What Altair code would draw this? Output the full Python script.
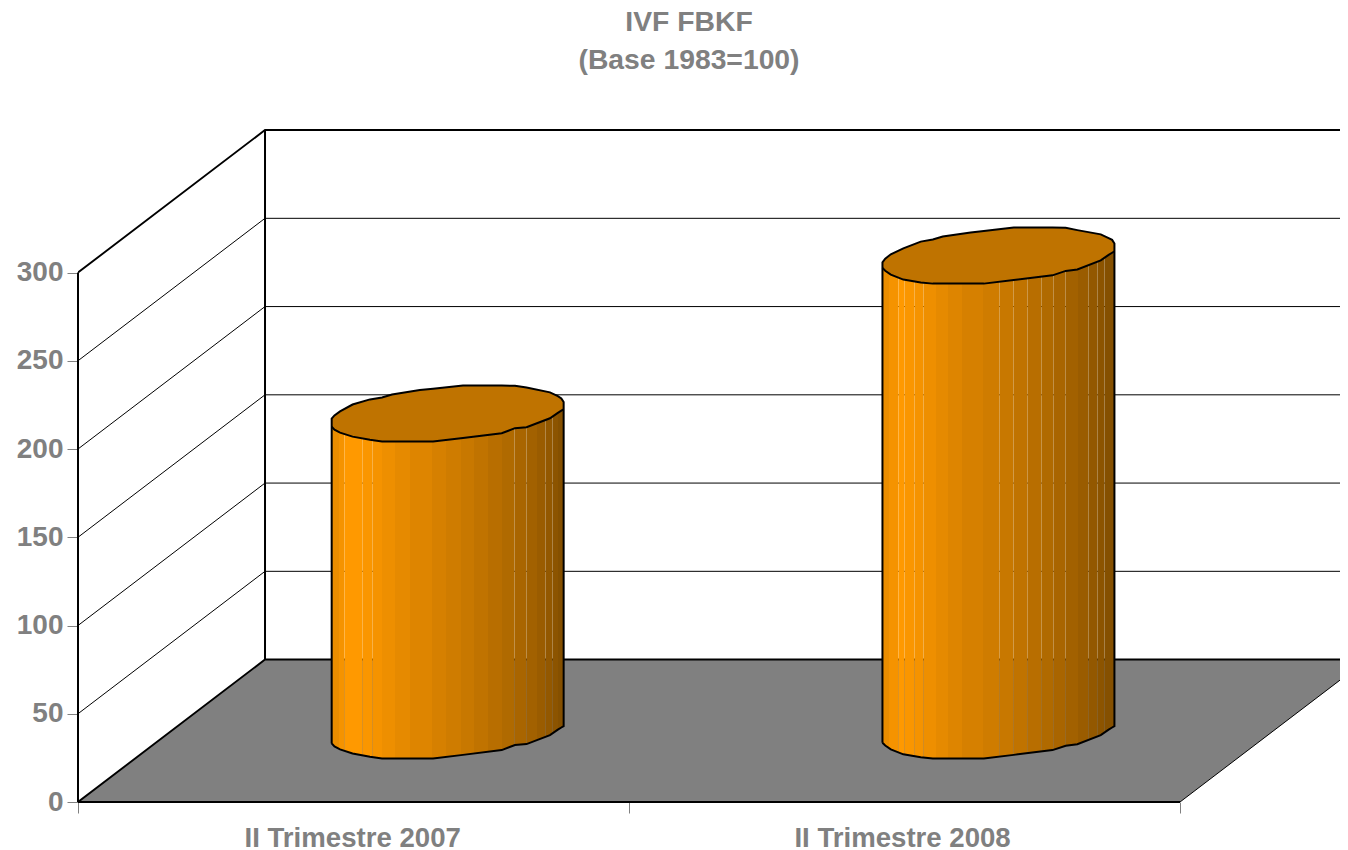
import altair as alt
import pandas as pd

CATEGORIES = ["II Trimestre 2007", "II Trimestre 2008"]
VALUES = [179.5, 269]
TICKS = [0, 50, 100, 150, 200, 250, 300]
TITLE = ["IVF FBKF", "(Base 1983=100)"]

# Outline of each cylinder: share of the column width,
# rim height in axis units at the front and at the back.
RIM_SHARE = [0, .012, .036, .09, .165, .217, .26, .38, .437, .566, .733, .79, .84, .941, .975, .99, 1]
FRONT_RIM = [
    [33.2, 31.5, 29.8, 27.5, 25.7, 24.7, 24.7, 24.7, 24.7, 26.7, 29.4, 32.3, 32.8, 37.9, 41.0, 42.2, 43.0],
    [33.6, 32.0, 29.8, 27.0, 25.4, 24.7, 24.7, 24.7, 24.7, 26.7, 29.4, 31.9, 32.7, 37.9, 41.0, 42.2, 43.0],
]
BACK_RIM = [
    [37.7, 39.5, 41.8, 45.7, 48.6, 49.7, 51.4, 53.9, 54.7, 56.5, 56.5, 56.3, 55.3, 52.6, 50.5, 49.2, 47.1],
    [36.8, 38.8, 41.3, 44.7, 48.5, 49.7, 51.4, 53.6, 54.5, 56.5, 56.5, 56.3, 55.0, 52.6, 50.5, 49.5, 47.4],
]
COLUMN_START = [0.4604, 1.4600]
COLUMN_WIDTH = 0.421

# Facet bands on the cylinder sides
BAND_EDGES = [
    [0, .032, .055, .13, .175, .218, .273, .338, .431, .491, .556, .614, .675, .733, .787, .839, .884, .920, .951, .977, 1],
    [0, .029, .065, .093, .134, .175, .23, .284, .342, .435, .503, .563, .625, .685, .737, .787, .841, .887, .924, .956, 1],
]
BAND_SHADES = [
    "#EA8D00", "#F59300", "#FF9900", "#FA9600", "#F59300", "#EE8F00", "#E68A00", "#DE8500", "#D68000", "#CF7C00",
    "#C87800", "#C07300", "#B86E00", "#B06A00", "#A96500", "#A26100", "#9A5C00", "#935800", "#8C5400", "#855000",
]
SEAMS = [
    [.055, .13, .175, .787, .839, .92, .951],
    [.065, .093, .134, .175, .503, .563, .625, .685, .737, .787, .887, .924, .956],
]

# Box proportions
FLOOR_DEPTH_X = 0.3394
FLOOR_DEPTH_Y = 80.7
X_MAX = 1262 / 551
Y_MAX = 702 / 1.765
GREY = "#808080"
FONT = "Liberation Sans"

xs = alt.Scale(domain=[0, X_MAX], nice=False, zero=False)
ys = alt.Scale(domain=[0, Y_MAX], nice=False, zero=False)
X = alt.X("x:Q", scale=xs, title=None)
Y = alt.Y("y:Q", scale=ys, title=None)


def gradient(idx):
    stops = []
    edges = BAND_EDGES[idx]
    seams = SEAMS[idx]
    for a, b, shade in zip(edges[:-1], edges[1:], BAND_SHADES):
        r, g, bl = int(shade[1:3], 16), int(shade[3:5], 16), int(shade[5:7], 16)
        start = a
        if a in seams:
            seam = f"rgba({r},{g},{bl},0.72)"
            stops += [alt.GradientStop(color=seam, offset=a), alt.GradientStop(color=seam, offset=a + .0045)]
            start = a + .0045
        stops += [alt.GradientStop(color=shade, offset=start), alt.GradientStop(color=shade, offset=b)]
    return alt.Gradient(gradient="linear", stops=stops, x1=0, x2=1, y1=0, y2=0)


# Floor (carries both axes)
floor = pd.DataFrame([
    {"x": 0, "y": 0, "y2": 0},
    {"x": FLOOR_DEPTH_X, "y": FLOOR_DEPTH_Y, "y2": 0},
    {"x": 2, "y": FLOOR_DEPTH_Y, "y2": 0},
    {"x": 2 + FLOOR_DEPTH_X, "y": FLOOR_DEPTH_Y, "y2": FLOOR_DEPTH_Y},
])
floor_layer = alt.Chart(floor).mark_area(color=GREY, clip=True).encode(
    x=alt.X("x:Q", scale=xs, title=None,
            axis=alt.Axis(values=[0, 1, 2], labels=False, domain=False, grid=False, tickColor=GREY,
                          tickSize=11, tickWidth=1, title=None)),
    y=alt.Y("y:Q", scale=ys, title=None,
            axis=alt.Axis(values=TICKS, domain=False, grid=False, tickColor=GREY, tickSize=11, tickWidth=1,
                          labelColor=GREY, labelFont=FONT, labelFontSize=28, labelFontWeight="bold",
                          labelPadding=4, title=None)),
    y2="y2:Q",
)

# Gridlines on both walls
rows = []
for v in TICKS:
    rows += [
        {"v": v, "k": 0, "x": 0, "y": v},
        {"v": v, "k": 1, "x": FLOOR_DEPTH_X, "y": v + FLOOR_DEPTH_Y},
        {"v": v, "k": 2, "x": 2 + FLOOR_DEPTH_X, "y": v + FLOOR_DEPTH_Y},
    ]
grid = pd.DataFrame(rows)
thin = alt.Chart(grid[(grid.v > 0) & (grid.v < TICKS[-1])]).mark_line(color="#000000", strokeWidth=1, clip=True).encode(
    x=X, y=Y, detail="v:N", order="k:Q")
thick = alt.Chart(grid[(grid.v == 0) | (grid.v == TICKS[-1])]).mark_line(color="#000000", strokeWidth=1.9, clip=True).encode(
    x=X, y=Y, detail="v:N", order="k:Q")

edges = pd.DataFrame([
    {"e": "front", "k": 0, "x": 0, "y": 0},
    {"e": "front", "k": 1, "x": 0, "y": TICKS[-1]},
    {"e": "back", "k": 0, "x": FLOOR_DEPTH_X, "y": FLOOR_DEPTH_Y},
    {"e": "back", "k": 1, "x": FLOOR_DEPTH_X, "y": TICKS[-1] + FLOOR_DEPTH_Y},
    {"e": "base", "k": 0, "x": 0, "y": 0},
    {"e": "base", "k": 1, "x": 2, "y": 0},
])
edge_layer = alt.Chart(edges).mark_line(color="#000000", strokeWidth=2, clip=False).encode(
    x=X, y=Y, detail="e:N", order="k:Q")
right_edge = pd.DataFrame([{"x": 2, "y": 0}, {"x": 2 + FLOOR_DEPTH_X, "y": FLOOR_DEPTH_Y}])
right_layer = alt.Chart(right_edge).mark_line(color="#000000", strokeWidth=1, clip=True).encode(x=X, y=Y)

# Cylinders
cyl_layers = []
for i, value in enumerate(VALUES):
    px = [COLUMN_START[i] + s * COLUMN_WIDTH for s in RIM_SHARE]
    front = FRONT_RIM[i]
    back = BACK_RIM[i]
    side = pd.DataFrame({"x": px, "y": front, "y2": [f + value for f in front]})
    top = pd.DataFrame({"x": px, "y": [f + value for f in front], "y2": [b + value for b in back]})
    cyl_layers.append(alt.Chart(side).mark_area(color=gradient(i), clip=True).encode(x=X, y=Y, y2="y2:Q"))
    cyl_layers.append(alt.Chart(top).mark_area(color="#BF7300", clip=True).encode(x=X, y=Y, y2="y2:Q"))
    n = len(px)
    path = (
        [{"p": "o", "k": j, "x": px[j], "y": front[j]} for j in range(n)]
        + [{"p": "o", "k": n + j, "x": px[n - 1 - j], "y": back[n - 1 - j] + value} for j in range(n)]
        + [{"p": "o", "k": 2 * n, "x": px[0], "y": front[0]}]
        + [{"p": "r", "k": j, "x": px[j], "y": front[j] + value} for j in range(n)]
    )
    cyl_layers.append(alt.Chart(pd.DataFrame(path)).mark_line(color="#000000", strokeWidth=2, clip=True).encode(
        x=X, y=Y, detail="p:N", order="k:Q"))

# Category labels
labels = pd.DataFrame({"x": [0.4985, 1.4965], "y": [0, 0], "t": CATEGORIES})
label_layer = alt.Chart(labels).mark_text(
    font=FONT, fontSize=27.6, fontWeight="bold", color=GREY, baseline="middle", align="center", dy=37
).encode(x=X, y=Y, text="t:N")

chart = alt.layer(floor_layer, thin, thick, edge_layer, right_layer, *cyl_layers, label_layer).properties(
    width=1262,
    height=702,
    autosize=alt.AutoSizeParams(type="none"),
    padding={"left": 70, "top": 92, "right": 0, "bottom": 48},
    title=alt.TitleParams(
        text=TITLE, anchor="middle", dx=-20, offset=25, font=FONT, fontSize=28.3, fontWeight="bold",
        color=GREY, lineHeight=38,
    ),
).configure_view(stroke=None)

chart.save("out.html", embed_options={"renderer": "svg", "actions": False})
